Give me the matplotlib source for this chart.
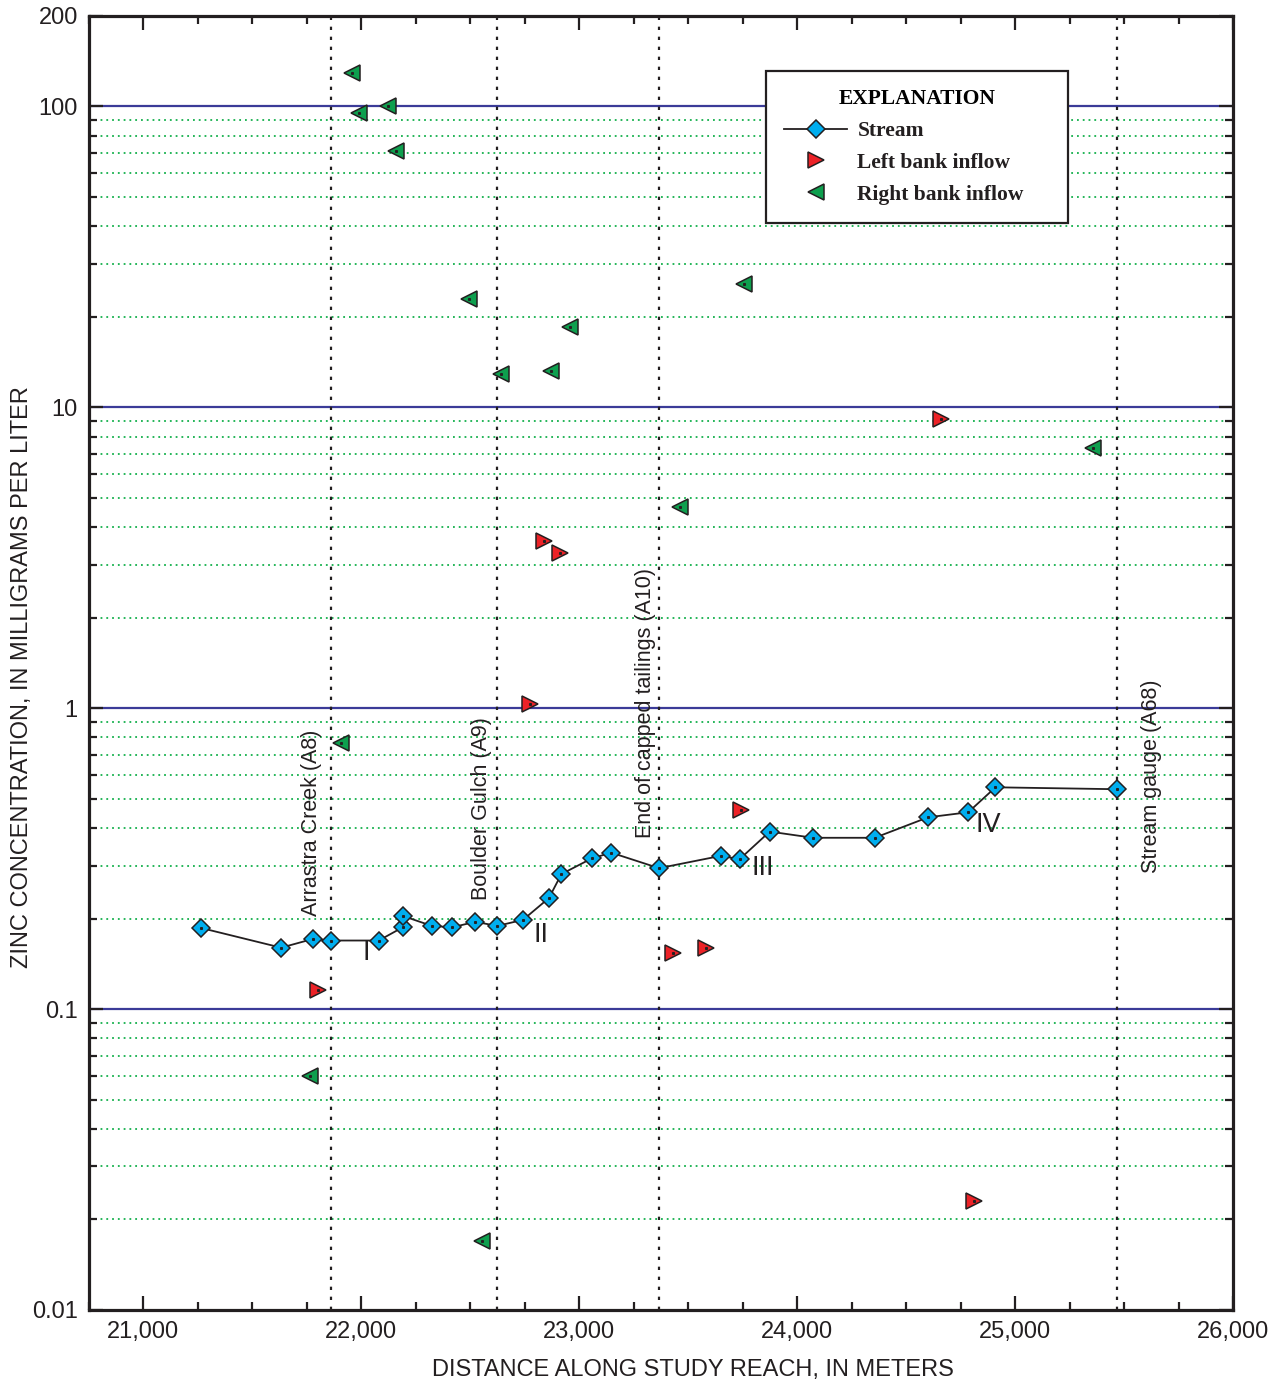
import numpy as np
import matplotlib.pyplot as plt
from matplotlib.ticker import FixedLocator, NullFormatter, StrMethodFormatter, FuncFormatter

plt.rcParams['font.family'] = ['Liberation Sans', 'DejaVu Sans']

# zinc, mg/L, along the study reach (m)
stream_dist = [21265, 21632, 21777, 21862, 22080, 22190, 22190, 22324, 22417, 22523,
               22624, 22742, 22861, 22918, 23058, 23147, 23366, 23649, 23736, 23874,
               24073, 24356, 24601, 24785, 24910, 25466]
stream_zn = [0.186, 0.160, 0.171, 0.169, 0.169, 0.187, 0.204, 0.189, 0.187, 0.195,
             0.189, 0.198, 0.234, 0.281, 0.317, 0.331, 0.294, 0.323, 0.315, 0.389,
             0.371, 0.371, 0.434, 0.451, 0.546, 0.538]

left_dist = [21800, 22775, 22837, 22910, 23429, 23580, 23744, 24662, 24811]
left_zn = [0.116, 1.03, 3.60, 3.29, 0.154, 0.159, 0.459, 9.12, 0.023]

right_dist = [21765, 21907, 21958, 21988, 22122, 22157, 22494, 22555, 22642, 22872,
              22956, 23461, 23755, 25356]
right_zn = [0.060, 0.764, 128.8, 95.3, 100.5, 71.1, 22.9, 0.017, 12.9, 13.2,
            18.5, 4.65, 25.8, 7.34]

# tributaries / landmarks
sites = ['Arrastra Creek (A8)', 'Boulder Gulch (A9)',
         'End of capped tailings (A10)', 'Stream gauge (A68)']
site_dist = [21862, 22624, 23366, 25466]
site_text_x = [21771, 22552, 23305, 25628]
site_text_y = [0.204, 0.2305, 0.370, 0.283]

# reach segments
segments = ['I', 'II', 'III', 'IV']
segment_x = [22024, 22823, 23842, 24879]
segment_y = [0.1536, 0.1763, 0.2944, 0.409]

ink = '#231f20'
navy = '#3b3b98'
dot_green = '#14b04c'

fig = plt.figure(figsize=(12.78, 13.84), dpi=100)
ax = fig.add_axes([0.0696, 0.0535, 0.8952, 0.9350])
ax.set_yscale('log')
ax.set_xlim(20750, 26000)
ax.set_ylim(0.01, 200)

# horizontal guides
minor_y = [m * 10.0 ** e for e in range(-2, 2) for m in range(2, 10)]
for v in minor_y:
    ax.axhline(v, color=dot_green, lw=1.3, ls=(0, (1, 2.2)), zorder=1)
for v in [0.1, 1, 10, 100]:
    ax.axhline(v, color=navy, lw=1.6, zorder=1)

# site lines and labels
for d, name, tx, ty in zip(site_dist, sites, site_text_x, site_text_y):
    ax.axvline(d, color=ink, lw=1.6, ls=(0, (1.5, 3.0)), zorder=2)
    ax.text(tx, ty, name, rotation=90, ha='center', va='bottom',
            fontsize=15.5, color=ink, zorder=3)

for s, x, y in zip(segments, segment_x, segment_y):
    ax.text(x, y, s, ha='center', va='center', fontsize=19.5, color=ink, zorder=3)

ax.plot(stream_dist, stream_zn, '-', color=ink, lw=1.3, marker='D', ms=9.5,
        mfc='#00aeef', mec=ink, mew=1.1, label='Stream', zorder=5)
ax.plot(left_dist, left_zn, ls='none', marker='>', ms=11.5, mfc='#ec2227',
        mec=ink, mew=1.1, label='Left bank inflow', zorder=5)
ax.plot(right_dist, right_zn, ls='none', marker='<', ms=11.5, mfc='#0e9f4e',
        mec=ink, mew=1.1, label='Right bank inflow', zorder=5)
# centre dots
ax.plot(stream_dist + left_dist + right_dist, stream_zn + left_zn + right_zn,
        ls='none', marker='s', ms=1.2, color=ink, zorder=6)

# axes, ticks
ax.xaxis.set_major_locator(FixedLocator(np.arange(21000, 26001, 1000)))
ax.xaxis.set_minor_locator(FixedLocator(np.arange(20750, 26001, 250)))
ax.xaxis.set_major_formatter(StrMethodFormatter('{x:,.0f}'))
ax.yaxis.set_major_locator(FixedLocator([0.01, 0.1, 1, 10, 100, 200]))
ax.yaxis.set_minor_locator(FixedLocator(minor_y))
ax.yaxis.set_major_formatter(FuncFormatter(lambda v, p: f'{v:g}'))
ax.yaxis.set_minor_formatter(NullFormatter())

ax.tick_params(which='both', direction='in', top=True, right=True, color=ink,
               labelsize=17, labelcolor=ink, pad=8)
ax.tick_params(which='major', length=10, width=1.6)
ax.tick_params(which='minor', length=5.5, width=1.6)
for sp in ax.spines.values():
    sp.set_linewidth(2.3)
    sp.set_color(ink)

ax.set_xlabel('DISTANCE ALONG STUDY REACH, IN METERS', fontsize=17, color=ink)
ax.set_ylabel('ZINC CONCENTRATION, IN MILLIGRAMS PER LITER', fontsize=17, color=ink)
ax.xaxis.set_label_coords(0.5276, -0.0464)
ax.xaxis.label.set_va('center')
ax.yaxis.set_label_coords(-0.0586, 0.4888)
ax.yaxis.label.set_va('center')

serif = dict(family='Liberation Serif', weight='bold', size=15.5)
leg = ax.legend(loc='upper left', bbox_to_anchor=(0.5918, 0.8439, 0.264, 0.1136),
                mode='expand', borderaxespad=0,
                title='EXPLANATION', prop=serif, title_fontproperties=serif,
                fancybox=False, edgecolor=ink, framealpha=1, numpoints=1,
                borderpad=0.85, handlelength=2.9, handletextpad=0.5, labelspacing=0.55)
leg.get_frame().set_linewidth(1.6)
for t in leg.get_texts():
    t.set_color(ink)

fig.savefig('out.png', dpi=100)
